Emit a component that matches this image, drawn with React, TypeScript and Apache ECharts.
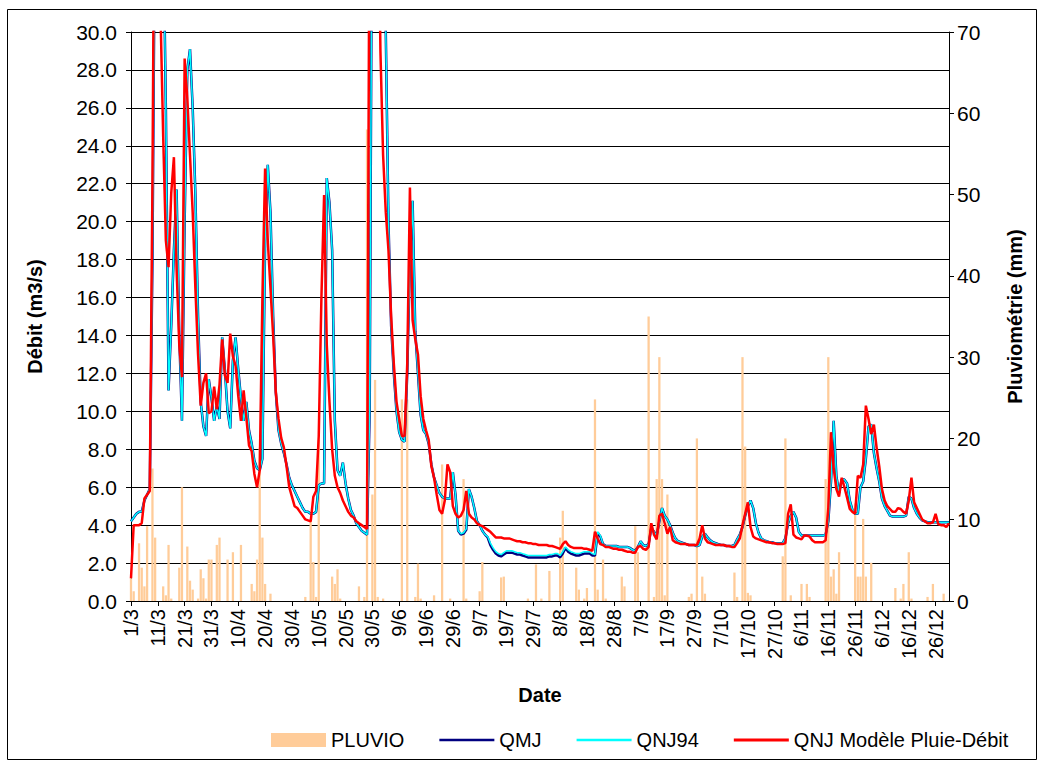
import React, { useEffect, useRef } from "react";
import * as echarts from "echarts";

// Months covered: [month number, number of days]
const MONTHS: [number, number][] = [
  [3, 31], [4, 30], [5, 31], [6, 30], [7, 31], [8, 31], [9, 30], [10, 31], [11, 30], [12, 31],
];
const DATES: string[] = [];
MONTHS.forEach(([m, n]) => {
  for (let d = 1; d <= n; d++) DATES.push(`${d}/${m}`);
});

// Rainfall (mm), daily, from 1/3 to 31/12
const PLUVIO = [
  2.8, 1.2, 0, 7.1, 4.1, 1.8, 9.2, 0, 16.3, 7.8,
  0, 0, 1.8, 0.7, 6.9, 0.3, 0, 0, 4.1, 14.0,
  0, 6.7, 2.5, 1.4, 0, 0.3, 3.9, 2.8, 0.3, 5.1,
  5.1, 0, 6.9, 7.8, 0, 0, 5.1, 0, 6.0, 0,
  0, 6.9, 0, 0, 0, 2.1, 1.2, 5.1, 18.9, 7.8,
  2.1, 0, 0.9, 0, 0, 0, 0, 0, 0, 0,
  0, 0, 0, 0, 0, 0.5, 0, 10.1, 4.8, 0.5,
  19.8, 0, 0, 0, 0, 3.0, 2.1, 3.9, 0.3, 0,
  0, 0, 0, 0, 0, 1.8, 0, 0.5, 58, 0,
  13.1, 27.2, 0.5, 0, 0.3, 0, 0, 0, 0, 0,
  0, 24.8, 0, 24.8, 0, 0, 0.5, 4.6, 0.3, 0,
  0, 0, 0, 0.7, 0, 0, 16.8, 0, 0, 0.3,
  0, 0, 0, 0, 15.0, 0.3, 0, 0, 0, 0,
  1.2, 4.8, 0, 0, 0, 0, 0, 0, 2.9, 3.0,
  0, 0, 0, 0, 0, 0, 0, 0, 0.3, 0,
  0, 4.5, 0, 0.3, 0, 0, 3.7, 0, 0, 0,
  7.8, 11.1, 0, 0, 0, 0, 4.1, 1.4, 0, 0.3,
  1.6, 0, 0, 24.8, 1.4, 0, 5.1, 0.3, 0, 0,
  0, 0, 0, 3.0, 1.8, 0, 0, 0, 9.2, 6.0,
  0, 0, 0, 35, 0, 0.5, 15, 30, 15, 0.7,
  13.1, 0, 0, 0, 0, 0, 0, 0, 0.5, 0.9,
  0, 20, 0, 3.0, 0.9, 0, 0, 0, 0, 0,
  0, 0, 0, 0, 0, 3.5, 0.5, 0, 30, 19,
  1.0, 0.7, 0, 0, 0, 0, 0, 0, 0, 0,
  0, 0, 0, 5.5, 20, 0, 0.7, 0, 0, 0,
  2.1, 0, 2.1, 0.5, 0, 0, 0, 0, 0, 15,
  30, 3.0, 3.9, 0.9, 6.0, 0, 0, 0, 0, 0,
  12, 3.0, 3.0, 10.1, 3.0, 0, 4.7, 0, 0, 0,
  0, 0, 0, 0, 0, 1.6, 0, 0.3, 2.1, 0,
  6.0, 0.3, 0, 0, 0, 0, 0, 0.5, 0, 2.1,
  0, 0, 0, 0.9, 0, 0,
];

// QNJ94 (m3/s)
const QNJ94 = [
  4.2, 4.4, 4.6, 4.7, 4.7, 5.3, 5.6, 5.9, 18, 38,
  45, 42, 36, 26, 11.1, 14.5, 18.5, 21.7, 14.0, 9.5,
  20.0, 28.0, 29.1, 26.0, 21.5, 15.0, 10.5, 9.2, 8.7, 11.7,
  10.7, 9.5, 10.3, 9.6, 13.9, 12.2, 10.0, 9.1, 12.7, 13.9,
  12.2, 10.7, 9.5, 10.5, 9.0, 8.3, 7.4, 7.0, 6.9, 7.5,
  19.0, 23.0, 20.5, 15.0, 11.0, 9.0, 8.3, 7.8, 7.2, 6.5,
  6.1, 5.8, 5.5, 5.2, 4.9, 4.7, 4.7, 4.6, 4.6, 4.7,
  6.1, 6.2, 6.2, 22.3, 21.0, 18.5, 9.5, 6.9, 6.6, 7.3,
  6.2, 5.4, 4.8, 4.5, 4.1, 3.9, 3.7, 3.6, 3.5, 10.0,
  42, 55, 50, 44, 38, 30, 20, 14.5, 12.0, 10.0,
  8.9, 8.5, 8.4, 12.0, 18.0, 21.1, 14.2, 12.0, 9.8, 9.0,
  8.8, 8.3, 7.2, 6.5, 6.1, 5.7, 5.5, 5.4, 5.4, 5.4,
  6.8, 5.6, 3.7, 3.55, 3.6, 3.8, 5.9, 5.5, 4.9, 4.2,
  4.0, 3.7, 3.5, 3.4, 3.05, 2.8, 2.6, 2.5, 2.45, 2.55,
  2.65, 2.65, 2.65, 2.6, 2.55, 2.55, 2.5, 2.45, 2.4, 2.4,
  2.4, 2.4, 2.4, 2.4, 2.4, 2.4, 2.45, 2.45, 2.5, 2.5,
  2.4, 2.6, 2.85, 2.7, 2.6, 2.55, 2.5, 2.5, 2.55, 2.6,
  2.6, 2.6, 2.5, 2.45, 3.65, 3.45, 3.0, 2.9, 2.9, 2.9,
  2.9, 2.9, 2.85, 2.85, 2.85, 2.85, 2.8, 2.7, 2.65, 2.85,
  3.15, 2.95, 2.9, 3.0, 3.85, 3.65, 3.45, 4.2, 4.9, 4.5,
  4.3, 4.0, 3.6, 3.3, 3.15, 3.1, 3.05, 3.0, 2.95, 2.95,
  2.95, 2.9, 2.95, 3.4, 3.55, 3.35, 3.2, 3.1, 3.05, 3.0,
  2.95, 2.95, 2.9, 2.9, 2.9, 2.95, 3.25, 3.5, 3.9, 4.5,
  5.0, 5.3, 4.9, 4.1, 3.6, 3.3, 3.2, 3.15, 3.1, 3.1,
  3.05, 3.05, 3.05, 3.05, 3.3, 4.1, 4.5, 4.7, 4.4, 3.65,
  3.45, 3.45, 3.45, 3.45, 3.45, 3.45, 3.45, 3.45, 3.45, 3.5,
  4.2, 6.3, 9.5, 6.6, 5.7, 6.4, 6.4, 6.2, 5.3, 4.8,
  4.6, 4.6, 6.0, 6.3, 7.5, 9.2, 9.3, 7.8, 7.0, 6.3,
  5.4, 5.0, 4.75, 4.5, 4.45, 4.45, 4.45, 4.45, 4.45, 4.5,
  5.5, 5.4, 4.9, 4.6, 4.4, 4.25, 4.2, 4.15, 4.15, 4.15,
  4.15, 4.15, 4.15, 4.15, 4.15, 4.15,
];

// QMJ (m3/s)
const QMJ = [
  4.2, 4.4, 4.6, 4.7, 4.7, 5.3, 5.6, 5.9, 18, 38,
  45, 42, 36, 26, 11.1, 14.5, 18.5, 21.7, 14.0, 9.5,
  20.0, 28.0, 29.1, 26.0, 21.5, 15.0, 10.5, 9.2, 8.7, 11.7,
  10.7, 9.5, 10.3, 9.6, 13.9, 12.2, 10.0, 9.1, 12.7, 13.9,
  12.2, 10.7, 9.5, 10.5, 9.0, 8.3, 7.4, 7.0, 6.9, 7.5,
  19.0, 23.0, 20.5, 15.0, 11.0, 9.0, 8.3, 7.8, 7.2, 6.5,
  6.1, 5.8, 5.5, 5.2, 4.9, 4.7, 4.7, 4.6, 4.6, 4.7,
  6.1, 6.2, 6.2, 22.3, 21.0, 18.5, 9.5, 6.9, 6.6, 7.3,
  6.2, 5.4, 4.8, 4.5, 4.1, 3.9, 3.7, 3.6, 3.5, 10.0,
  42, 55, 50, 44, 38, 30, 20, 14.5, 12.0, 10.0,
  8.9, 8.5, 8.4, 12.0, 18.0, 21.1, 14.2, 12.0, 9.8, 9.0,
  8.8, 8.3, 7.2, 6.5, 6.1, 5.7, 5.5, 5.4, 5.4, 5.4,
  6.8, 5.6, 3.7, 3.5, 3.55, 3.75, 5.9, 5.5, 4.9, 4.2,
  4.0, 3.7, 3.5, 3.35, 2.95, 2.7, 2.5, 2.4, 2.35, 2.45,
  2.55, 2.55, 2.55, 2.5, 2.45, 2.45, 2.4, 2.35, 2.3, 2.3,
  2.3, 2.3, 2.3, 2.3, 2.3, 2.3, 2.35, 2.35, 2.4, 2.4,
  2.3, 2.5, 2.8, 2.6, 2.5, 2.45, 2.4, 2.4, 2.45, 2.5,
  2.5, 2.5, 2.4, 2.4, 3.6, 3.4, 3.0, 2.9, 2.9, 2.9,
  2.9, 2.9, 2.85, 2.85, 2.85, 2.85, 2.8, 2.7, 2.65, 2.85,
  3.15, 2.95, 2.9, 3.0, 3.85, 3.65, 3.45, 4.2, 4.9, 4.5,
  4.3, 4.0, 3.6, 3.3, 3.15, 3.1, 3.05, 3.0, 2.95, 2.95,
  2.95, 2.9, 2.95, 3.4, 3.55, 3.35, 3.2, 3.1, 3.05, 3.0,
  2.95, 2.95, 2.9, 2.9, 2.9, 2.95, 3.25, 3.5, 3.9, 4.5,
  5.0, 5.3, 4.9, 4.1, 3.6, 3.3, 3.2, 3.15, 3.1, 3.1,
  3.05, 3.05, 3.05, 3.05, 3.3, 4.1, 4.5, 4.7, 4.4, 3.65,
  3.45, 3.45, 3.45, 3.45, 3.45, 3.45, 3.45, 3.45, 3.45, 3.5,
  4.2, 6.3, 9.5, 6.6, 5.7, 6.4, 6.4, 6.2, 5.3, 4.8,
  4.6, 4.6, 6.0, 6.3, 7.5, 9.2, 9.3, 7.8, 7.0, 6.3,
  5.4, 5.0, 4.75, 4.5, 4.45, 4.45, 4.45, 4.45, 4.45, 4.5,
  5.5, 5.4, 4.9, 4.6, 4.4, 4.25, 4.2, 4.15, 4.15, 4.15,
  4.15, 4.15, 4.15, 4.15, 4.15, 4.15,
];

// QNJ Modèle Pluie-Débit (m3/s)
const MODELE = [
  1.2, 4.0, 4.0, 4.0, 4.1, 5.4, 5.6, 5.8, 22, 45,
  40, 31, 24.5, 19.0, 17.6, 21.5, 23.4, 17.5, 13.5, 11.8,
  28.6, 26.5, 23.5, 20.5, 16.5, 13.0, 10.3, 11.5, 12.0, 9.9,
  10.0, 11.3, 10.1, 11.4, 13.8, 11.9, 11.5, 14.1, 12.9, 12.4,
  10.8, 9.5, 11.1, 9.7, 8.2, 7.9, 6.7, 6.0, 6.9, 16.0,
  22.8, 19.0, 16.5, 14.0, 11.0, 9.6, 8.6, 8.1, 7.1, 6.0,
  5.5, 5.0, 4.9, 4.7, 4.5, 4.3, 4.25, 4.2, 5.5, 5.8,
  8.7, 16.0, 21.4, 13.5, 10.5, 8.0, 6.6, 6.0, 5.7, 5.3,
  5.0, 4.7, 4.5, 4.4, 4.2, 4.1, 4.0, 3.9, 3.8, 40,
  55, 50, 40, 29, 23.5, 20.5, 18.5, 15.0, 12.5, 10.5,
  9.6, 8.7, 8.7, 12.5, 21.8, 14.8, 13.8, 13.0, 10.8, 9.6,
  9.0, 8.5, 7.1, 6.5, 5.6, 4.8, 4.6, 5.3, 7.2, 6.8,
  5.0, 4.6, 4.4, 4.5, 4.8, 5.8, 4.6, 4.4, 4.3, 4.1,
  4.0, 3.95, 3.85, 3.75, 3.65, 3.5, 3.35, 3.35, 3.35, 3.3,
  3.3, 3.3, 3.25, 3.2, 3.15, 3.15, 3.1, 3.1, 3.05, 3.05,
  3.0, 3.0, 2.95, 2.95, 2.95, 2.95, 2.9, 2.9, 2.85, 2.8,
  2.75, 3.0, 3.15, 2.95, 2.85, 2.8, 2.8, 2.8, 2.8, 2.75,
  2.75, 2.7, 2.65, 3.65, 3.3, 3.0, 2.95, 2.85, 2.85, 2.8,
  2.75, 2.75, 2.7, 2.7, 2.65, 2.6, 2.6, 2.55, 2.55, 2.85,
  2.9, 2.75, 2.7, 2.85, 4.1, 3.5, 3.25, 4.5, 4.6, 4.1,
  3.55, 3.9, 3.2, 3.1, 3.05, 3.0, 3.0, 3.0, 2.95, 2.95,
  2.95, 2.95, 3.3, 4.0, 3.3, 3.1, 3.05, 3.0, 2.95, 2.95,
  2.95, 2.95, 2.9, 2.9, 2.85, 2.85, 3.05, 3.3, 4.0, 4.6,
  5.2, 3.9, 3.4, 3.3, 3.25, 3.2, 3.15, 3.1, 3.1, 3.05,
  3.05, 3.0, 3.0, 3.0, 3.05, 4.6, 5.1, 3.5, 3.35, 3.3,
  3.25, 3.45, 3.45, 3.4, 3.2, 3.1, 3.1, 3.1, 3.1, 3.2,
  4.9, 8.9, 7.0, 5.9, 5.5, 6.5, 6.0, 5.45, 4.85, 4.7,
  4.6, 6.6, 6.5, 7.2, 10.3, 9.6, 8.8, 9.3, 8.1, 7.1,
  5.9, 5.3, 5.0, 4.85, 4.7, 4.7, 4.9, 4.85, 4.7, 4.6,
  5.3, 6.5, 5.2, 4.9, 4.6, 4.3, 4.2, 4.1, 4.1, 4.15,
  4.6, 4.05, 4.0, 4.0, 3.9, 4.1,
];

const FONT = '"Liberation Sans", Arial, sans-serif';
const LINE_ICON = "path://M0,0H110V5H0Z";
const THICK_LINE_ICON = "path://M0,0H110V6H0Z";

export default function App() {
  const ref = useRef<HTMLDivElement>(null);

  useEffect(() => {
    if (!ref.current) return;
    const chart = echarts.init(ref.current, undefined, { renderer: "svg" });
    chart.setOption({
      animation: false,
      textStyle: { fontFamily: FONT, color: "#000" },
      graphic: [
        {
          type: "rect",
          shape: { x: 7.5, y: 9.5, width: 1029, height: 750 },
          style: { fill: "none", stroke: "#000", lineWidth: 1 },
          silent: true,
        },
      ],
      grid: { left: 131, right: 91, top: 32, bottom: 159 },
      legend: {
        left: 266,
        top: 725,
        itemWidth: 55,
        itemHeight: 14,
        itemGap: 35,
        symbolKeepAspect: true,
        textStyle: { fontSize: 20, color: "#000", fontFamily: FONT },
        data: [
          { name: "PLUVIO", icon: "rect" },
          { name: "QMJ", icon: LINE_ICON },
          { name: "QNJ94", icon: LINE_ICON },
          { name: "QNJ Modèle Pluie-Débit", icon: THICK_LINE_ICON },
        ],
      },
      xAxis: {
        type: "category",
        data: DATES,
        boundaryGap: false,
        name: "Date",
        nameLocation: "middle",
        nameGap: 84,
        nameTextStyle: { fontWeight: "bold", fontSize: 20, color: "#000", fontFamily: FONT },
        axisLine: { lineStyle: { color: "#000", width: 1 } },
        axisTick: { interval: 9, length: 5, lineStyle: { color: "#000" } },
        axisLabel: { interval: 9, rotate: 90, fontSize: 20, color: "#000", margin: 8, fontFamily: FONT },
        splitLine: { show: false },
      },
      yAxis: [
        {
          type: "value",
          min: 0,
          max: 30,
          interval: 2,
          name: "Débit (m3/s)",
          nameLocation: "middle",
          nameRotate: 90,
          nameGap: 86,
          nameTextStyle: { fontWeight: "bold", fontSize: 20, color: "#000", fontFamily: FONT },
          axisLine: { show: true, lineStyle: { color: "#000" } },
          axisTick: { show: true, length: 5, lineStyle: { color: "#000" } },
          axisLabel: {
            fontSize: 21,
            color: "#000",
            margin: 14,
            fontFamily: FONT,
            formatter: (v: number) => v.toFixed(1),
          },
          splitLine: { show: true, lineStyle: { color: "#000", width: 1 } },
        },
        {
          type: "value",
          min: 0,
          max: 70,
          interval: 10,
          position: "right",
          name: "Pluviométrie (mm)",
          nameLocation: "middle",
          nameRotate: 90,
          nameGap: 56,
          nameTextStyle: { fontWeight: "bold", fontSize: 20, color: "#000", fontFamily: FONT },
          axisLine: { show: true, lineStyle: { color: "#000" } },
          axisTick: { show: true, length: 5, lineStyle: { color: "#000" } },
          axisLabel: { fontSize: 21, color: "#000", margin: 8, fontFamily: FONT },
          splitLine: { show: false },
        },
      ],
      series: [
        {
          name: "PLUVIO",
          type: "bar",
          yAxisIndex: 1,
          data: PLUVIO,
          barCategoryGap: "15%",
          itemStyle: { color: "#FFCC99" },
          z: 1,
        },
        {
          name: "QMJ",
          type: "line",
          data: QMJ,
          symbol: "none",
          lineStyle: { color: "#000080", width: 2.5 },
          itemStyle: { color: "#000080" },
          z: 2,
        },
        {
          name: "QNJ94",
          type: "line",
          data: QNJ94,
          symbol: "none",
          lineStyle: { color: "#00FFFF", width: 1.5 },
          itemStyle: { color: "#00FFFF" },
          z: 3,
        },
        {
          name: "QNJ Modèle Pluie-Débit",
          type: "line",
          data: MODELE,
          symbol: "none",
          lineStyle: { color: "#FF0000", width: 2.5 },
          itemStyle: { color: "#FF0000" },
          z: 4,
        },
      ],
    });
    return () => chart.dispose();
  }, []);

  return (
    <div
      ref={ref}
      style={{ position: "absolute", left: 0, top: 0, width: 1040, height: 760, background: "#fff" }}
    />
  );
}
